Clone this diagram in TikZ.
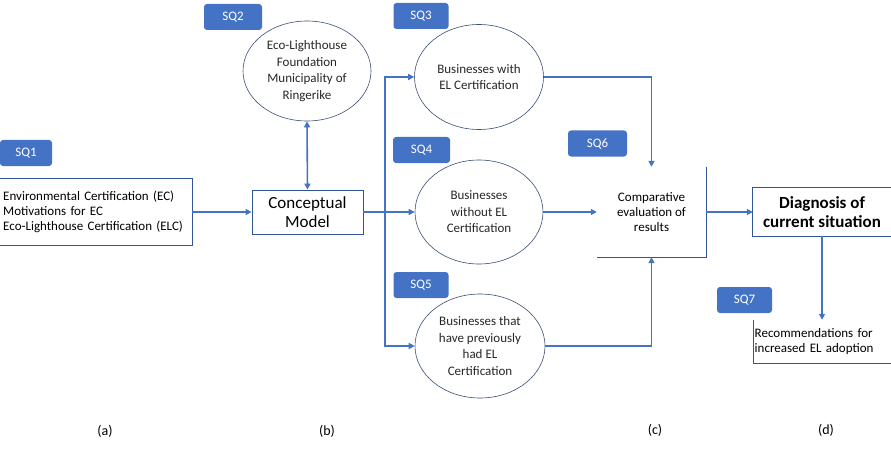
\documentclass[tikz,border=0pt]{standalone}
\usepackage{fontspec}
\setmainfont{Carlito}
\usetikzlibrary{arrows.meta,shapes.geometric}
\definecolor{sqblue}{HTML}{4472C4}
\definecolor{linkblue}{HTML}{4472C4}
\definecolor{edge}{HTML}{2F5597}
\definecolor{rim}{HTML}{3B4F73}

\begin{document}
\begin{tikzpicture}[x=1pt,y=-1pt,
  tag/.style={fill=sqblue,rounded corners=3pt,text=white,minimum width=55pt,minimum height=26pt,inner sep=0pt,font=\fontsize{13}{15}\selectfont},
  group/.style={ellipse,draw=rim,line width=.6pt,align=center,inner sep=0pt,text=black!85,font=\fontsize{13}{16.5}\selectfont},
  frame/.style={edge,line width=.8pt},
  link/.style={linkblue,line width=1.6pt,-{Triangle[length=6pt,width=6pt]}},
  plain/.style={font=\fontsize{13}{15}\selectfont}]
  \useasboundingbox (0,0) rectangle (891,468);

  \node[tag,minimum width=52pt] (sq1) at (26,153) {SQ1};
  \node[tag,minimum width=58pt] (sq2) at (233,17) {SQ2};
  \node[tag] (sq3) at (421,16) {SQ3};
  \node[tag,minimum width=57pt] (sq4) at (421.5,150) {SQ4};
  \node[tag] (sq5) at (421,285) {SQ5};
  \node[tag,minimum width=59pt] (sq6) at (597.5,143.5) {SQ6};
  \node[tag] (sq7) at (744.5,300) {SQ7};

  \node[plain,anchor=west,text width=186pt,align=left,inner xsep=3pt,minimum height=66pt] (ctx) at (0,212)
    {Environmental Certification (EC)\\Motivations for EC\\Eco-Lighthouse Certification (ELC)};
  \draw[frame] (ctx.north west) -- (ctx.north east) -- (ctx.south east) -- (ctx.south west);

  \node[draw=edge,line width=.8pt,minimum width=111pt,minimum height=44pt,align=center,font=\fontsize{17}{19}\selectfont] (model) at (307.5,212) {Conceptual\\Model};

  \node[group,minimum width=128pt,minimum height=100pt] (eco) at (307,71) {Eco-Lighthouse\\Foundation\\Municipality of\\Ringerike};
  \node[group,minimum width=129pt,minimum height=105pt] (ewith) at (479,77) {Businesses with\\EL Certification};
  \node[group,minimum width=128pt,minimum height=104pt] (ewithout) at (479,212) {Businesses\\without EL\\Certification};
  \node[group,minimum width=130pt,minimum height=104pt] (eprev) at (480,346) {Businesses that\\have previously\\had EL\\Certification};

  \node[plain,align=center,minimum width=109pt,minimum height=90pt] (cmp) at (651.5,212) {Comparative\\evaluation of\\results};
  \draw[frame] (cmp.north east) -- (cmp.south east) -- (cmp.south west);

  \node[align=center,minimum width=138pt,minimum height=48pt,font=\fontsize{17}{19}\bfseries] (diag) at (822,212) {Diagnosis of\\current situation};
  \draw[frame] (diag.north east) -- (diag.north west) -- (diag.south west) -- (diag.south east);

  \node[plain,anchor=west,text width=135pt,align=left,inner xsep=1.5pt,minimum height=43pt] (rec) at (753,341.5)
    {Recommendations for\\increased EL adoption};
  \draw[frame] (rec.north west) -- (rec.south west) -- (rec.south east);

  \coordinate (split) at (385,212);
  \draw[link] (ctx.east) -- (model.west);
  \draw[linkblue,line width=1.6pt,{Triangle[length=6pt,width=6pt]}-{Triangle[length=6pt,width=6pt]}] (eco.south) -- (model.north);
  \draw[link] (model.east) -- (ewithout.west);
  \draw[link] (split) |- (ewith.west);
  \draw[link] (split) |- (eprev.west);
  \draw[link] (ewith.east) -| (cmp.north);
  \draw[link] (ewithout.east) -- (cmp.west);
  \draw[link] (eprev.east) -| (cmp.south);
  \draw[link] (cmp.east) -- (diag.west);
  \draw[link] (diag.south) -- (rec.north -| diag.south);

  \node[font=\fontsize{14}{16}\selectfont] (la) at (105,431) {(a)};
  \node[font=\fontsize{14}{16}\selectfont] (lb) at (327,431) {(b)};
  \node[font=\fontsize{14}{16}\selectfont] (lc) at (655,430) {(c)};
  \node[font=\fontsize{14}{16}\selectfont] (ld) at (826,430) {(d)};
\end{tikzpicture}
\end{document}
